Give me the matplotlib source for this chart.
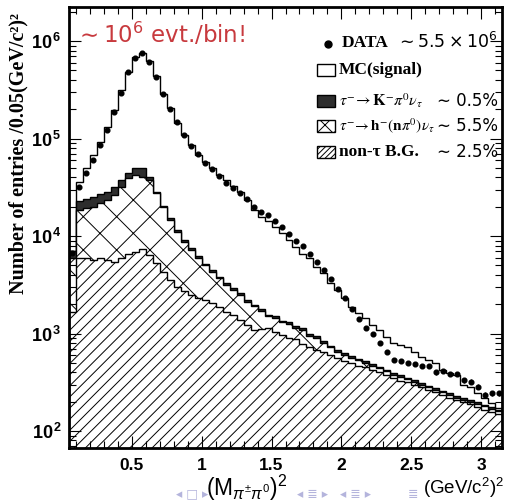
import numpy as np
import matplotlib
matplotlib.use("Agg")
import matplotlib.pyplot as plt
from matplotlib.patches import Rectangle
from matplotlib.lines import Line2D
from matplotlib.ticker import FixedLocator, LogLocator, NullFormatter

# ---- histogram contents, 0.05 (GeV/c^2)^2 bins from 0.05 to 3.15 ----
bin_lo, bin_w, n_bins = 0.05, 0.05, 62

data = [6700, 31600, 44600, 60200, 85100, 122000, 187000, 295000, 481000, 665000,
        748000, 613000, 424000, 284000, 201000, 147000, 109000, 84400, 68900, 56500,
        48300, 41200, 35200, 31300, 27800, 23900, 19700, 17800, 16400, 14400,
        12500, 10400, 8890, 7950, 6490, 5450, 4480, 3600, 2840, 2330,
        1770, 1400, 1150, 982, 805, 651, 535, 526, 502, 483,
        468, 468, 400, 415, 384, 384, 333, 321, 285, 234,
        244, 244]

nontau = [1660, 5900, 5900, 5700, 5900, 5700, 5450, 5900, 6600, 6900,
          7300, 6400, 5250, 4300, 3540, 2980, 2750, 2480, 2300, 2210,
          2040, 1880, 1670, 1550, 1380, 1220, 1090, 1120, 1150, 1040,
          960, 900, 880, 780, 720, 680, 640, 600, 560, 520,
          500, 470, 450, 420, 400, 380, 350, 330, 320, 300,
          280, 265, 250, 235, 220, 210, 200, 190, 175, 165,
          158, 150]

h_npi0 = [4240, 12600, 13300, 14300, 15700, 17700, 20850, 26200, 32500, 35300,
          33300, 31100, 22150, 15700, 11060, 8120, 5950, 4720, 3700, 2790,
          2260, 1820, 1480, 1250, 1120, 880, 810, 580, 350, 410,
          340, 350, 270, 320, 230, 220, 160, 120, 90, 80,
          60, 60, 50, 50, 40, 30, 30, 30, 20, 20,
          20, 15, 15, 15, 15, 10, 10, 10, 15, 15,
          12, 10]

k_pi0 = [1100, 4400, 4600, 5300, 5200, 5100, 5800, 5400, 5500, 7900,
         9500, 3100, 1100, 500, 600, 500, 400, 300, 250, 200,
         180, 150, 130, 120, 100, 90, 80, 70, 60, 60,
         50, 50, 50, 45, 40, 40, 35, 30, 30, 25,
         25, 20, 20, 20, 18, 17, 16, 15, 14, 13,
         12, 12, 11, 10, 10, 9, 9, 8, 8, 7,
         7, 6]

signal = [0, 13200, 26000, 42400, 65900, 103500, 163900, 277500, 439400, 629900,
          697900, 587400, 409500, 265500, 188800, 133400, 99900, 78300, 61450, 52600,
          45020, 38350, 34220, 29680, 25900, 21510, 16520, 14030, 12840, 10890,
          9350, 7900, 6600, 5455, 4910, 3910, 3305, 2520, 2120, 1675,
          1295, 1060, 910, 730, 632, 501, 397, 387, 379, 318,
          266, 243, 218, 163, 146, 146, 77, 77, 46, 29,
          15, 5]

x_ticks = [0.5, 1, 1.5, 2, 2.5, 3]
x_ticklabels = ["0.5", "1", "1.5", "2", "2.5", "3"]
y_ticks = [1e2, 1e3, 1e4, 1e5, 1e6]
y_exps = [2, 3, 4, 5, 6]

plt.rcParams["mathtext.fontset"] = "custom"
plt.rcParams["mathtext.rm"] = "Liberation Sans"
plt.rcParams["mathtext.bf"] = "Liberation Sans:bold"
plt.rcParams["mathtext.it"] = "Liberation Sans:italic"
plt.rcParams["hatch.linewidth"] = 0.7

W, H = 505, 503
fig = plt.figure(figsize=(W / 100, H / 100), dpi=100)
ax = fig.add_axes([69 / W, 1 - 448 / H, 433 / W, 441 / H])


def fx(x):
    return x / W


def fy(y):
    return 1 - y / H


edges = np.round(bin_lo + bin_w * np.arange(n_bins + 1), 3)
centers = 0.5 * (edges[:-1] + edges[1:])

# stacked MC: non-tau at the bottom, signal on top
stack = np.cumsum(np.array([nontau, h_npi0, k_pi0, signal], dtype=float), axis=0)
layers = [
    (stack[3], "white", None),
    (stack[2], "#2d2d2d", None),
    (stack[1], "white", "x"),
    (stack[0], "white", "///"),
]
for vals, fc, hatch in layers:
    ax.stairs(vals, edges, baseline=1, fill=True, facecolor=fc,
              edgecolor="black", hatch=hatch, linewidth=1.0)

data = np.array(data, dtype=float)
ax.errorbar(centers, data, yerr=np.sqrt(data), fmt="o", color="black",
            ms=3.4, elinewidth=0.8, capsize=0, zorder=6)

ax.set_xlim(edges[0], edges[-1])
ax.set_yscale("log")
ax.set_ylim(67, 2.24e6)

ax.xaxis.set_major_locator(FixedLocator(x_ticks))
ax.xaxis.set_minor_locator(FixedLocator(np.round(np.arange(0.1, 3.15, 0.1), 2)))
ax.set_xticklabels(x_ticklabels, fontfamily="Liberation Sans",
                   fontweight="bold", fontsize=12.5)
ax.yaxis.set_major_locator(FixedLocator(y_ticks))
ax.yaxis.set_minor_locator(LogLocator(base=10, subs=np.arange(2, 10)))
ax.yaxis.set_minor_formatter(NullFormatter())
ax.set_yticklabels([r"$\mathbf{10}^{\,\mathbf{%d}}$" % e for e in y_exps],
                   fontsize=13)

ax.tick_params(which="both", direction="in", top=True, right=True,
               width=0.8, colors="black")
ax.tick_params(which="major", length=8.5)
ax.tick_params(which="minor", length=5)
ax.tick_params(axis="y", which="major", pad=5)
ax.tick_params(axis="x", which="major", pad=7)
for sp in ax.spines.values():
    sp.set_linewidth(2.0)

# axis titles
fig.text(fx(18), fy(154), "Number of entries /0.05(GeV/c²)²", rotation=90,
         ha="center", va="center", fontfamily="Liberation Serif",
         fontweight="bold", fontsize=14.5)
fig.text(fx(247), fy(488), r"$(\mathrm{M}_{\pi^{\pm}\pi^{0}})^{2}$",
         ha="center", va="center", fontsize=16.5)
fig.text(fx(464), fy(488), r"(GeV/c$^{2}$)$^{2}$", ha="center", va="center",
         fontfamily="Liberation Sans", fontsize=13.5)

# banner
fig.text(fx(75), fy(43), r"$\sim 10^{6}$ evt./bin!", ha="left", va="baseline",
         color="#c83a3e", fontsize=16.5, math_fontfamily="dejavusans",
         fontfamily="DejaVu Sans")

# legend
serif_bold = dict(fontfamily="Liberation Serif", fontweight="bold", fontsize=12.5,
                  va="center", ha="left")
sans = dict(fontfamily="DejaVu Sans", fontsize=12, va="center", ha="right")

fig.add_artist(Line2D([fx(328)], [fy(44)], marker="o", ms=5, color="black",
                      transform=fig.transFigure))
fig.text(fx(342), fy(43), "DATA", **serif_bold)
fig.text(fx(498), fy(42), r"$\sim 5.5\times10^{6}$", math_fontfamily="dejavusans",
         fontfamily="DejaVu Sans", fontsize=12.5, va="center", ha="right")

boxes = [
    (70, "white", None, "MC(signal)", None),
    (101, "#2d2d2d", None, None, "∼ 0.5%"),
    (126, "white", "xx", None, "∼ 5.5%"),
    (152, "white", "//////", "non-τ B.G.", "∼ 2.5%"),
]
for yc, fc, hatch, label, pct in boxes:
    fig.add_artist(Rectangle((fx(317), fy(yc + 6)), fx(18), 12 / H,
                             facecolor=fc, edgecolor="black", hatch=hatch,
                             linewidth=1.0, transform=fig.transFigure))
    if label:
        fig.text(fx(339), fy(yc), label, **serif_bold)
    if pct:
        fig.text(fx(498), fy(yc), pct, **sans)

fig.text(fx(339), fy(101), r"$\tau^{-}\!\rightarrow\mathbf{K}^{-}\pi^{0}\nu_{\tau}$",
         math_fontfamily="stix", fontsize=11.5, va="center", ha="left")
fig.text(fx(339), fy(126), r"$\tau^{-}\!\rightarrow\mathbf{h}^{-}(\mathbf{n}\pi^{0})\nu_{\tau}$",
         math_fontfamily="stix", fontsize=11, va="center", ha="left")

# slide navigation symbols
nav = dict(ha="left", va="center", fontfamily="DejaVu Sans", fontsize=9,
           color="#b4b4dc")
fig.text(fx(176), fy(494), "◂ □ ▸", **nav)
fig.text(fx(297), fy(494), "◂ ≣ ▸   ◂ ≣ ▸", **nav)
fig.text(fx(408), fy(494), "≣", **nav)

fig.savefig("out.png", dpi=100)
